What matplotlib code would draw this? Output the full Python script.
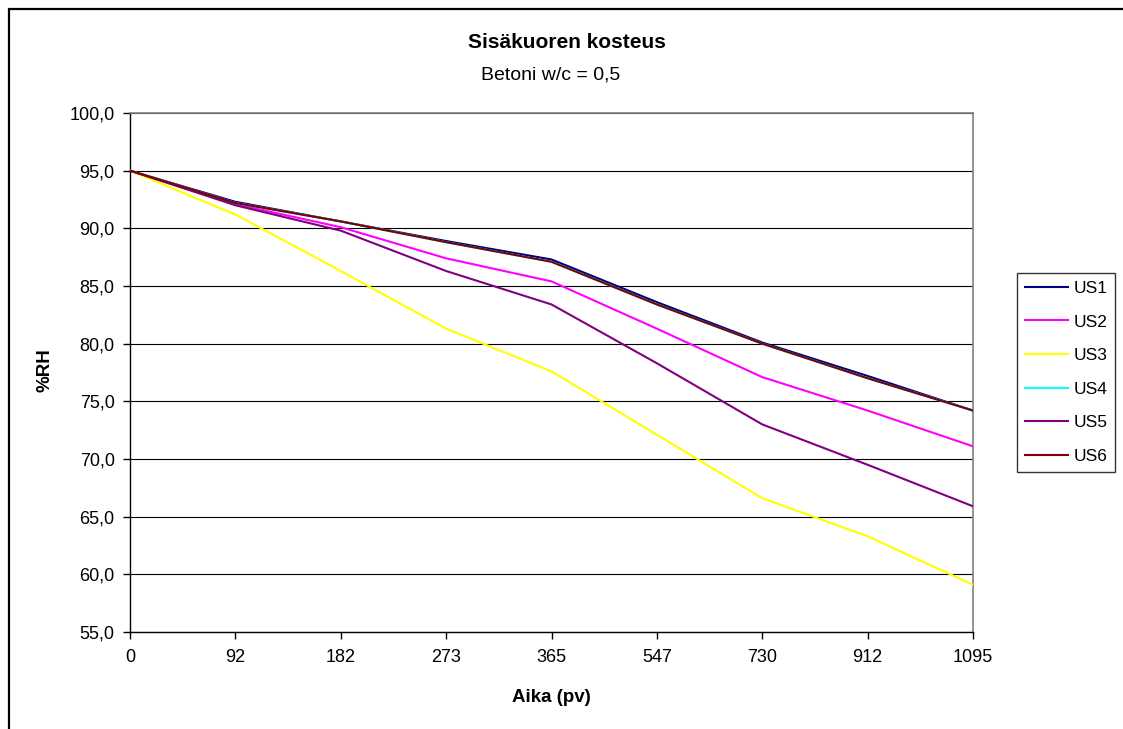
import matplotlib.pyplot as plt
from matplotlib.patches import Rectangle

plt.rcParams['font.family'] = ['Liberation Sans', 'DejaVu Sans']

# Time points (days) shown as equally spaced categories
days = ["0", "92", "182", "273", "365", "547", "730", "912", "1095"]

us1 = [95.0, 92.3, 90.6, 88.9, 87.3, 83.6, 80.1, 77.2, 74.2]
us2 = [95.0, 92.1, 90.1, 87.4, 85.4, 81.3, 77.1, 74.2, 71.1]
us3 = [95.0, 91.2, 86.3, 81.3, 77.6, 72.1, 66.6, 63.3, 59.1]
us4 = [95.0, 92.2, 90.6, 88.8, 87.1, 83.4, 80.0, 77.0, 74.2]
us5 = [95.0, 92.0, 89.8, 86.3, 83.4, 78.3, 73.0, 69.5, 65.9]
us6 = [95.0, 92.2, 90.6, 88.8, 87.1, 83.4, 80.0, 77.0, 74.2]

series = [
    ("US1", us1, "#000080"),
    ("US2", us2, "#ff00ff"),
    ("US3", us3, "#ffff00"),
    ("US4", us4, "#00ffff"),
    ("US5", us5, "#800080"),
    ("US6", us6, "#800000"),
]

W, H = 1123, 729
fig = plt.figure(figsize=(W / 100, H / 100), dpi=100)
ax = fig.add_axes([130 / W, 1 - 632 / H, (973 - 130) / W, (632 - 113) / H])

x = list(range(len(days)))
for name, vals, col in series:
    ax.plot(x, vals, color=col, lw=1.5, label=name, zorder=3)

ax.set_xlim(0, len(days) - 1)
ax.set_ylim(55, 100)
ax.set_xticks(x)
ax.set_xticklabels(days)
yt = list(range(55, 101, 5))
ax.set_yticks(yt)
ax.set_yticklabels([f"{v:.1f}".replace(".", ",") for v in yt])
ax.tick_params(axis="both", direction="out", length=5, width=1, labelsize=13, colors="black")
ax.tick_params(axis="x", pad=7)
ax.tick_params(axis="y", pad=6)

ax.grid(True, axis="y", color="black", lw=0.8, zorder=1)
for s in ("top", "right"):
    ax.spines[s].set_color("#808080")
    ax.spines[s].set_linewidth(1.2)
for s in ("left", "bottom"):
    ax.spines[s].set_color("black")
    ax.spines[s].set_linewidth(1)

ax.set_xlabel("Aika (pv)", fontsize=13.5, fontweight="bold", va="center")
ax.xaxis.set_label_coords((551 - 130) / 843, (632 - 697) / 519)
ax.set_ylabel("%RH", fontsize=13.5, fontweight="bold", va="center")
ax.yaxis.set_label_coords((45 - 130) / 843, (632 - 370) / 519)

fig.text(567 / W, 1 - 42 / H, "Sisäkuoren kosteus", ha="center", va="center",
         fontsize=15, fontweight="bold")
fig.text(551 / W, 1 - 75 / H, "Betoni w/c = 0,5", ha="center", va="center", fontsize=14)

leg = fig.legend(loc="upper left", bbox_to_anchor=(1017 / W, 1 - 273 / H),
                 fontsize=12.5, frameon=True, fancybox=False, handlelength=2.5,
                 labelspacing=1.06, borderpad=0.45, handletextpad=0.3,
                 borderaxespad=0)
leg.get_frame().set_edgecolor("black")
leg.get_frame().set_linewidth(1)

# outer chart border (cut off at right and bottom edges)
fig.patches.append(Rectangle((9 / W, -0.1), 1.2, 1.1 - 9 / H, transform=fig.transFigure,
                             fill=False, edgecolor="black", lw=1.6))

fig.savefig("out.png", dpi=100)
